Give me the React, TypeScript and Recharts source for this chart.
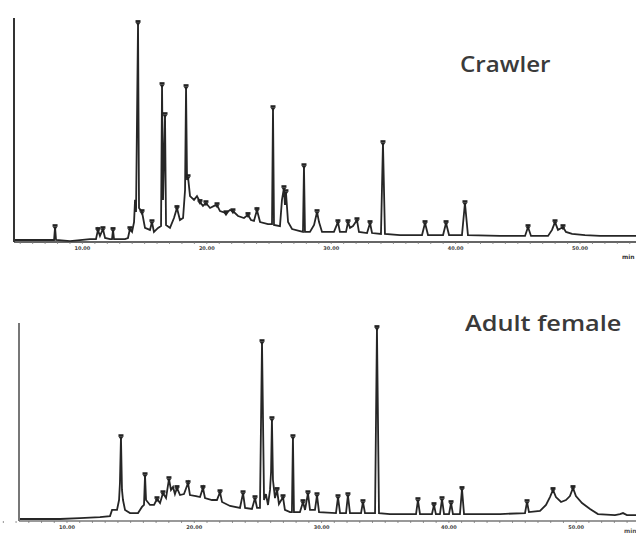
import React from 'react';
import { ComposedChart, Line, XAxis, YAxis } from 'recharts';

// Retention time (min) and detector response (% of full scale)
const crawlerSignal: [number, number][] = [
  [4.5, 0.9], [7.39, 0.9], [7.72, 0.9], [7.8, 6.7], [7.88, 0.9], [9.0, 0.4], [10.61, 1.3],
  [11.09, 1.3], [11.25, 5.4], [11.41, 2.7], [11.65, 5.8], [11.82, 1.8], [12.22, 1.3],
  [12.38, 1.3], [12.46, 5.4], [12.54, 1.3], [13.42, 1.3], [13.66, 1.8], [13.82, 5.8],
  [13.99, 4.5], [14.15, 8.9], [14.23, 18.8], [14.31, 13.4], [14.47, 97.8], [14.55, 15.2],
  [14.79, 13.4], [15.03, 6.3], [15.43, 5.4], [15.59, 8.9], [15.75, 4.5], [16.08, 6.3],
  [16.32, 7.1], [16.4, 70.1], [16.48, 18.8], [16.64, 56.7], [16.72, 7.6], [17.04, 6.3],
  [17.36, 10.7], [17.6, 15.2], [17.84, 9.8], [18.09, 10.7], [18.25, 23.2], [18.33, 69.2],
  [18.41, 27.7], [18.49, 29.0], [18.65, 20.5], [18.97, 18.8], [19.21, 20.5], [19.45, 17.9],
  [19.69, 16.1], [19.93, 17.4], [20.26, 15.2], [20.58, 16.1], [20.82, 16.5], [21.06, 13.8],
  [21.54, 12.9], [21.86, 14.3], [22.1, 13.8], [22.51, 11.6], [22.99, 10.7], [23.31, 12.1],
  [23.55, 9.8], [23.79, 9.4], [24.03, 14.3], [24.28, 8.9], [24.92, 8.0], [25.24, 8.0],
  [25.32, 59.8], [25.4, 7.6], [25.88, 7.1], [26.04, 18.8], [26.2, 24.1], [26.28, 16.5],
  [26.36, 22.3], [26.53, 8.9], [26.85, 5.8], [27.49, 4.9], [27.73, 4.5], [27.81, 33.9],
  [27.89, 4.5], [28.29, 4.5], [28.62, 7.6], [28.86, 13.4], [29.02, 8.9], [29.26, 4.5],
  [30.22, 4.5], [30.54, 8.9], [30.7, 4.5], [31.19, 4.5], [31.35, 8.9], [31.51, 6.3],
  [31.75, 7.1], [32.07, 9.8], [32.23, 4.5], [32.88, 4.0], [33.12, 8.5], [33.28, 4.0],
  [34.0, 3.6], [34.16, 44.2], [34.32, 3.6], [35.53, 3.1], [37.3, 3.1], [37.54, 8.5],
  [37.78, 3.1], [38.99, 3.1], [39.23, 8.5], [39.47, 3.1], [40.51, 3.1], [40.75, 17.4],
  [40.99, 3.1], [43.57, 2.7], [45.58, 2.7], [45.82, 6.7], [46.06, 2.7], [47.43, 2.7],
  [47.75, 5.4], [47.99, 8.9], [48.23, 5.4], [48.63, 6.7], [48.87, 4.5], [49.36, 3.6],
  [50.4, 3.1], [51.61, 2.7], [54.82, 2.7],
];
const crawlerMarks: number[] = [
  7.8, 11.25, 11.65, 12.46, 13.82, 14.47, 14.79, 15.59, 16.4, 16.64, 17.6, 18.33, 18.49,
  19.45, 19.93, 20.82, 21.54, 22.1, 23.31, 24.03, 25.32, 26.2, 26.36, 27.81, 28.86, 30.54,
  31.35, 32.07, 33.12, 34.16, 37.54, 39.23, 40.75, 45.82, 47.99, 48.63,
];

const femaleSignal: [number, number][] = [
  [6.23, 1.0], [9.45, 1.0], [11.02, 1.5], [12.59, 2.0], [13.38, 2.5], [13.54, 5.6],
  [13.93, 5.6], [14.09, 10.6], [14.16, 19.2], [14.24, 42.4], [14.32, 15.7], [14.4, 10.6],
  [14.56, 5.6], [14.95, 4.0], [15.58, 4.0], [15.89, 7.1], [16.05, 8.1], [16.13, 23.2],
  [16.21, 10.6], [16.52, 8.1], [16.84, 8.1], [17.07, 11.1], [17.31, 9.1], [17.54, 14.1],
  [17.78, 11.6], [18.01, 21.2], [18.17, 15.7], [18.33, 17.2], [18.48, 13.6], [18.64, 16.7],
  [18.88, 13.1], [19.19, 13.6], [19.51, 19.2], [19.66, 13.1], [20.13, 12.6], [20.45, 12.1],
  [20.68, 16.7], [20.84, 11.6], [21.39, 10.6], [21.78, 10.6], [22.02, 14.6], [22.18, 9.6],
  [22.81, 7.6], [23.59, 6.6], [23.83, 14.1], [23.99, 6.6], [24.53, 6.1], [24.77, 11.6],
  [24.93, 6.6], [25.16, 6.6], [25.32, 90.4], [25.48, 10.6], [25.63, 13.6], [25.79, 8.1],
  [25.95, 15.7], [26.03, 24.7], [26.1, 51.5], [26.18, 20.7], [26.34, 11.6], [26.5, 15.7],
  [26.65, 8.6], [26.97, 12.1], [27.12, 5.6], [27.52, 4.5], [27.67, 4.5], [27.75, 42.4],
  [27.83, 4.5], [28.3, 4.5], [28.54, 9.6], [28.7, 5.6], [28.93, 14.1], [29.09, 5.6],
  [29.48, 5.6], [29.64, 13.1], [29.8, 4.5], [31.13, 4.0], [31.29, 12.1], [31.45, 4.0],
  [31.92, 4.0], [32.07, 13.1], [32.23, 4.0], [33.1, 4.0], [33.25, 9.6], [33.41, 4.0],
  [34.2, 4.0], [34.35, 97.5], [34.51, 4.0], [35.37, 3.5], [37.42, 3.5], [37.57, 10.6],
  [37.73, 3.5], [38.67, 3.5], [38.83, 8.1], [38.98, 3.5], [39.3, 3.5], [39.46, 11.1],
  [39.62, 3.5], [40.01, 3.5], [40.17, 9.1], [40.32, 3.5], [40.87, 3.5], [41.03, 16.2],
  [41.19, 3.5], [44.02, 3.5], [45.98, 4.0], [46.14, 9.6], [46.29, 4.5], [47.16, 5.1],
  [47.63, 8.1], [47.94, 12.1], [48.18, 15.7], [48.41, 12.1], [48.81, 9.6], [49.2, 10.6],
  [49.51, 12.6], [49.75, 16.7], [49.98, 12.6], [50.46, 9.1], [51.09, 6.1], [51.71, 3.5],
  [53.05, 3.0], [53.44, 3.5], [53.68, 4.0], [53.99, 3.0], [55.01, 3.0],
];
const femaleMarks: number[] = [
  14.24, 16.13, 17.07, 17.54, 18.01, 18.64, 19.51, 20.68, 22.02, 23.83, 24.77, 25.32,
  26.1, 26.5, 26.97, 27.75, 28.54, 28.93, 29.64, 31.29, 32.07, 33.25, 34.35, 37.57, 38.83,
  39.46, 40.17, 41.03, 46.14, 48.18, 49.75,
];

const majorTicks: number[] = [10, 20, 30, 40, 50];
const majorTickLabels: string[] = ['10.00', '20.00', '30.00', '40.00', '50.00'];
const minorTicks: number[] = [
  5, 6, 7, 8, 9, 10, 11, 12, 13, 14, 15, 16, 17, 18, 19, 20, 21, 22, 23, 24, 25, 26, 27, 28,
  29, 30, 31, 32, 33, 34, 35, 36, 37, 38, 39, 40, 41, 42, 43, 44, 45, 46, 47, 48, 49, 50, 51,
  52, 53, 54,
];
const axisUnit = 'min';

const toRows = (sig: [number, number][], marks: number[]) =>
  sig.map(([t, v]) => ({ t, v, m: marks.includes(t) }));

const crawlerRows = toRows(crawlerSignal, crawlerMarks);
const femaleRows = toRows(femaleSignal, femaleMarks);

const Tick = (props: any) => {
  const { x, y, payload } = props;
  const idx = majorTicks.indexOf(payload.value);
  return (
    <g>
      <line x1={x} y1={y} x2={x} y2={y + 2} stroke="#777" strokeWidth={0.8} />
      {idx >= 0 && (
        <text x={x} y={y + 8} textAnchor="middle" fontSize={5} fill="#444" fontFamily="DejaVu Sans" fontWeight="bold">
          {majorTickLabels[idx]}
        </text>
      )}
    </g>
  );
};

const renderDot = (p: any) => {
  const { cx, cy, payload, index } = p;
  if (!payload.m) return <g key={`d${index}`} />;
  return (
    <g key={`d${index}`}>
      <rect x={cx - 2.5} y={cy - 2.8} width={5} height={2.4} fill="#222" />
      <path d={`M${cx - 2.5} ${cy - 0.6} L${cx + 2.5} ${cy - 0.6} L${cx} ${cy + 3.2} Z`} fill="#222" />
    </g>
  );
};

const Chromatogram = ({ rows, domain, top, height, margin, xh, axisColor }: any) => (
  <div style={{ position: 'absolute', left: 0, top }}>
    <ComposedChart width={660} height={height} data={rows} margin={margin}>
      <XAxis
        dataKey="t"
        type="number"
        domain={domain}
        allowDataOverflow
        ticks={minorTicks}
        interval={0}
        tickSize={0}
        tickMargin={0}
        tickLine={false}
        tick={<Tick />}
        height={xh}
        axisLine={{ stroke: axisColor, strokeWidth: 1.4 }}
      />
      <YAxis
        type="number"
        domain={[0, 100]}
        width={2}
        tick={false}
        tickLine={false}
        axisLine={{ stroke: axisColor, strokeWidth: 2 }}
      />
      <Line
        dataKey="v"
        type="linear"
        stroke="#262626"
        strokeWidth={1.8}
        dot={renderDot}
        activeDot={false}
        isAnimationActive={false}
      />
    </ComposedChart>
  </div>
);

export default function App() {
  return (
    <div
      style={{
        position: 'absolute',
        left: 0,
        top: 0,
        width: 636,
        height: 534,
        overflow: 'hidden',
        background: '#fff',
      }}
    >
      <Chromatogram
        rows={crawlerRows}
        domain={[4.5, 54.5]}
        top={0}
        height={270}
        margin={{ top: 18, right: 24, left: 12, bottom: 8 }}
        xh={20}
        axisColor="#333"
      />
      <Chromatogram
        rows={femaleRows}
        domain={[6.23, 54.7]}
        top={290}
        height={244}
        margin={{ top: 33, right: 24, left: 17, bottom: 0 }}
        xh={13}
        axisColor="#777"
      />
      <div
        style={{
          position: 'absolute',
          left: 622,
          top: 253,
          fontFamily: 'DejaVu Sans',
          fontWeight: 'bold',
          fontSize: 6,
          color: '#333',
          whiteSpace: 'nowrap',
        }}
      >
        {axisUnit}
      </div>
      <div
        style={{
          position: 'absolute',
          left: 624,
          top: 527,
          fontFamily: 'DejaVu Sans',
          fontWeight: 'bold',
          fontSize: 6,
          color: '#555',
          whiteSpace: 'nowrap',
        }}
      >
        {axisUnit}
      </div>
      <div
        style={{
          position: 'absolute',
          left: 460,
          top: 54,
          fontFamily: 'Open Sans',
          fontWeight: 600,
          fontSize: 21,
          lineHeight: 1,
          color: '#3a3a3a',
          transform: 'scaleX(1.15)',
          transformOrigin: 'left top',
          whiteSpace: 'nowrap',
        }}
      >
        Crawler
      </div>
      <div
        style={{
          position: 'absolute',
          left: 465,
          top: 311,
          fontFamily: 'Open Sans',
          fontWeight: 600,
          fontSize: 22,
          lineHeight: 1,
          color: '#3a3a3a',
          transform: 'scaleX(1.15)',
          transformOrigin: 'left top',
          whiteSpace: 'nowrap',
        }}
      >
        Adult female
      </div>
    </div>
  );
}
